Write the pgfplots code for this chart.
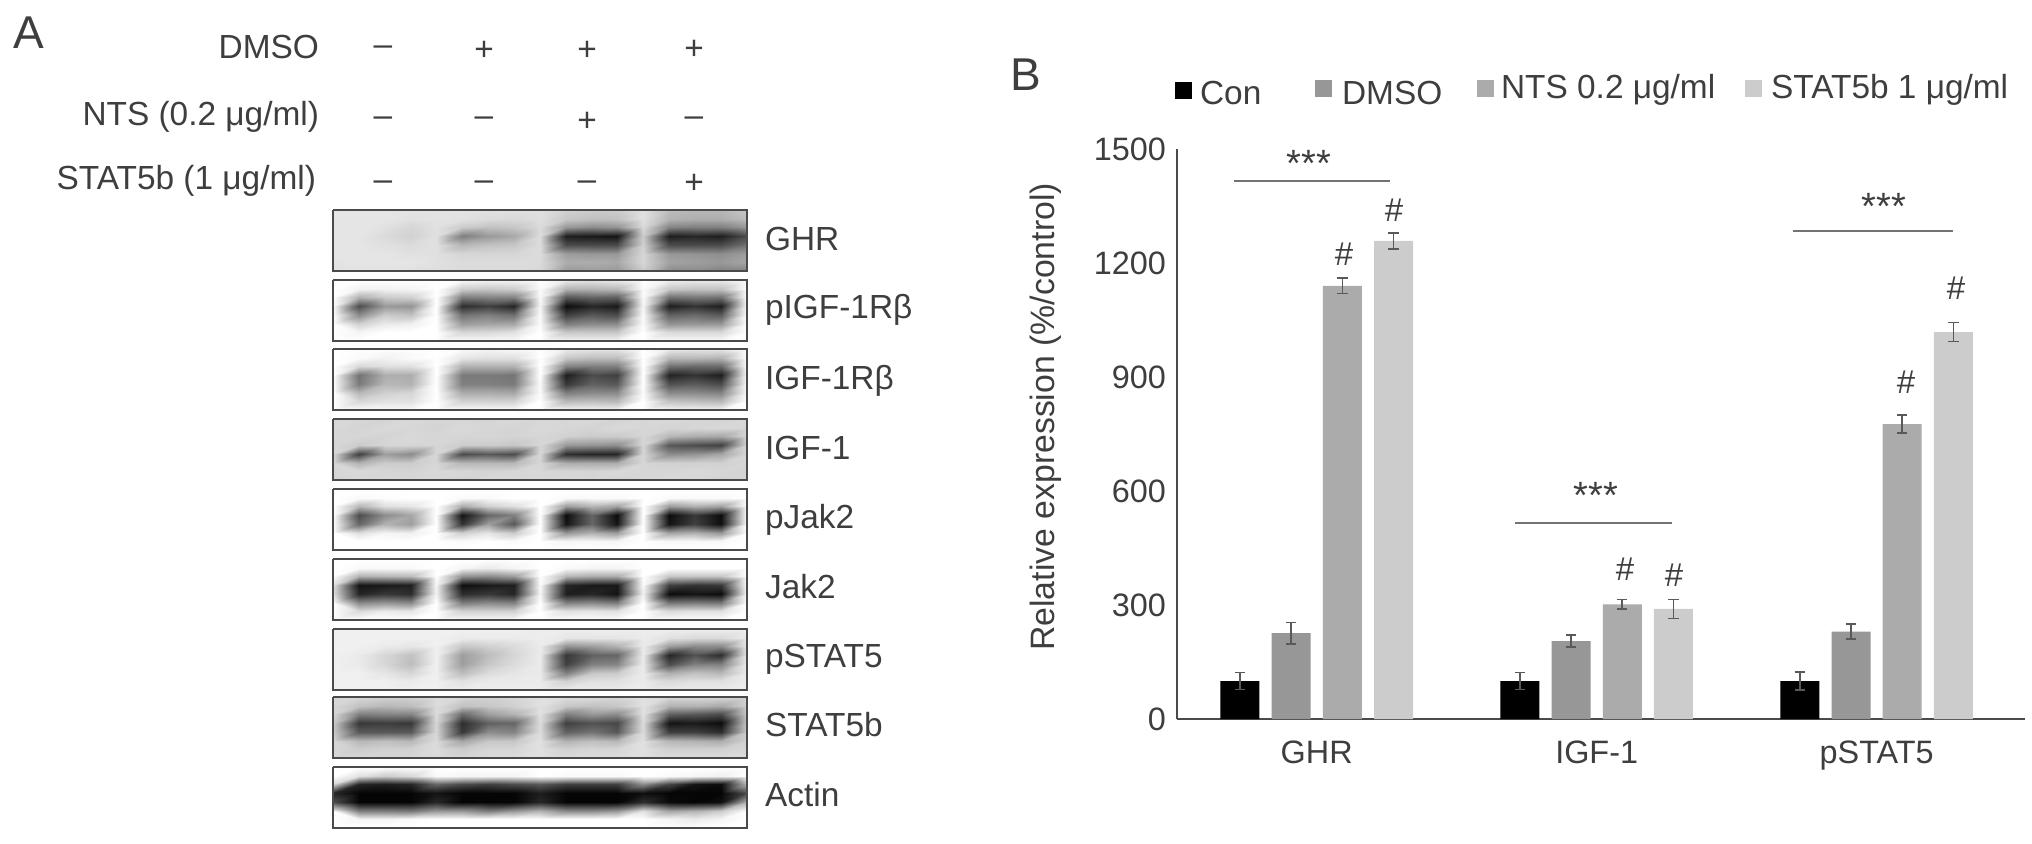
\documentclass[border=0pt]{standalone}
\usepackage{pgfplots}
\usepackage{fontspec}
\setmainfont{Liberation Sans}
\pgfplotsset{compat=1.18}
\definecolor{ink}{HTML}{3E3E3E}
\definecolor{frame}{HTML}{4A4A4A}
\definecolor{cA}{HTML}{000000}
\definecolor{cB}{HTML}{979797}
\definecolor{cC}{HTML}{ABABAB}
\definecolor{cD}{HTML}{CCCCCC}
\tikzset{t/.style={text=ink, font=\fontsize{16.7}{18}\selectfont},
         big/.style={text=ink, font=\fontsize{23}{26}\selectfont},
         star/.style={text=ink, font=\fontsize{19}{22}\selectfont},
         hash/.style={text=ink, font=\fontsize{16.5}{18}\selectfont}}
\newcommand{\blot}[2]{%
  \addplot[surf, shader=interp, mesh/cols=17, point meta=explicit]
    table[row sep=crcr, header=false, x expr={333+25.85*mod(\coordindex,17)},
          y expr={#1+8.7*floor(\coordindex/17)}, meta index=0]{#2};
  \addplot[draw=frame, line width=1.1pt] coordinates {(333,#1) (746.6,#1) (746.6,#1+61) (333,#1+61) (333,#1)};
}
\begin{document}
\begin{tikzpicture}
\path[use as bounding box] (0pt,0pt) rectangle (1016pt,421.5pt);
\begin{axis}[
  at={(0pt,0pt)}, anchor=south west,
  width=1016pt, height=421.5pt, scale only axis, hide axis,
  xmin=0, xmax=2032, ymin=0, ymax=843, y dir=reverse,
  clip=false,
  colormap={bw}{gray(0cm)=(0); gray(1cm)=(1)},
  point meta min=0, point meta max=100,
]
% GHR
\blot{210}{
90\\90\\90\\89\\89\\89\\88\\88\\88\\82\\80\\80\\88\\74\\72\\72\\78\\
90\\90\\90\\88\\89\\88\\86\\85\\87\\78\\75\\76\\88\\70\\68\\68\\74\\
90\\90\\88\\84\\88\\80\\76\\78\\86\\60\\55\\58\\85\\52\\50\\50\\60\\
90\\90\\86\\82\\88\\50\\60\\66\\86\\12\\10\\8\\80\\12\\15\\12\\30\\
90\\90\\88\\86\\88\\72\\76\\78\\86\\30\\30\\30\\82\\30\\30\\30\\45\\
90\\90\\90\\88\\88\\84\\84\\84\\86\\62\\60\\60\\84\\60\\58\\56\\62\\
90\\90\\90\\90\\88\\86\\86\\86\\86\\68\\68\\66\\84\\64\\62\\60\\65\\
88\\88\\88\\88\\87\\86\\86\\86\\84\\60\\62\\60\\80\\55\\55\\50\\50\\}
% pIGF-1Rb
\blot{280}{
100\\100\\100\\100\\100\\98\\96\\96\\100\\92\\90\\92\\100\\94\\92\\92\\100\\
100\\95\\95\\96\\100\\80\\78\\80\\98\\70\\70\\72\\98\\78\\76\\76\\100\\
100\\70\\80\\82\\100\\50\\52\\52\\98\\35\\40\\38\\98\\45\\48\\45\\100\\
98\\30\\60\\58\\100\\18\\25\\15\\96\\5\\15\\10\\96\\12\\20\\12\\98\\
100\\55\\80\\76\\100\\45\\50\\44\\98\\25\\35\\30\\98\\38\\42\\36\\100\\
100\\82\\92\\94\\100\\62\\65\\66\\98\\50\\55\\55\\98\\58\\60\\60\\100\\
100\\96\\100\\100\\100\\84\\85\\88\\100\\78\\78\\78\\100\\85\\85\\85\\100\\
100\\100\\100\\100\\100\\98\\98\\98\\100\\96\\96\\96\\100\\98\\98\\98\\100\\}
% IGF-1Rb
\blot{349}{
100\\99\\99\\99\\100\\98\\96\\97\\100\\92\\90\\90\\100\\92\\90\\90\\100\\
100\\98\\95\\98\\100\\90\\88\\88\\100\\78\\74\\74\\100\\72\\72\\70\\100\\
100\\85\\88\\88\\100\\70\\70\\70\\100\\52\\50\\50\\100\\45\\42\\42\\100\\
100\\45\\68\\68\\100\\48\\48\\46\\100\\12\\30\\25\\100\\14\\20\\12\\98\\
100\\48\\72\\70\\100\\50\\50\\48\\98\\22\\38\\35\\100\\32\\36\\30\\98\\
100\\72\\82\\84\\100\\68\\68\\66\\98\\50\\55\\55\\98\\55\\55\\52\\98\\
100\\84\\88\\88\\100\\82\\82\\82\\100\\72\\74\\72\\100\\76\\74\\72\\100\\
100\\98\\98\\98\\100\\98\\98\\98\\100\\96\\96\\96\\100\\96\\96\\96\\100\\}
% IGF-1
\blot{419}{
84\\84\\83\\85\\84\\84\\83\\85\\84\\84\\85\\83\\84\\85\\84\\83\\84\\
85\\83\\85\\84\\83\\85\\84\\83\\85\\84\\83\\85\\84\\83\\84\\85\\84\\
84\\84\\83\\85\\84\\84\\84\\83\\84\\82\\80\\80\\84\\72\\68\\66\\84\\
84\\80\\84\\84\\84\\80\\80\\78\\84\\60\\58\\56\\84\\35\\30\\26\\84\\
84\\25\\62\\55\\84\\30\\35\\30\\84\\18\\15\\15\\84\\55\\58\\65\\84\\
85\\70\\80\\80\\84\\72\\72\\72\\84\\68\\68\\68\\84\\82\\82\\82\\84\\
84\\85\\84\\83\\85\\84\\83\\84\\85\\84\\83\\85\\84\\84\\85\\84\\83\\
83\\84\\85\\84\\84\\83\\85\\84\\84\\85\\84\\83\\84\\85\\84\\83\\84\\}
% pJak2
\blot{489}{
100\\100\\100\\100\\100\\100\\100\\100\\100\\100\\100\\100\\100\\100\\100\\100\\100\\
100\\98\\99\\100\\100\\98\\98\\100\\100\\98\\98\\98\\100\\98\\98\\98\\100\\
100\\72\\88\\90\\100\\68\\82\\88\\100\\62\\72\\64\\100\\62\\70\\64\\100\\
100\\30\\55\\65\\100\\8\\40\\50\\100\\5\\40\\5\\100\\5\\22\\5\\100\\
100\\40\\70\\62\\100\\20\\62\\35\\100\\8\\40\\8\\100\\8\\25\\6\\100\\
100\\88\\96\\94\\100\\82\\90\\80\\100\\60\\70\\62\\100\\65\\70\\60\\100\\
100\\100\\100\\100\\100\\98\\100\\98\\100\\96\\97\\96\\100\\97\\97\\97\\100\\
100\\100\\100\\100\\100\\100\\100\\100\\100\\100\\100\\100\\100\\100\\100\\100\\100\\}
% Jak2
\blot{559}{
100\\100\\100\\100\\100\\100\\100\\100\\100\\100\\100\\100\\100\\100\\100\\100\\100\\
100\\98\\98\\98\\100\\96\\92\\96\\100\\98\\96\\96\\100\\100\\100\\100\\100\\
100\\70\\72\\74\\100\\58\\55\\62\\100\\72\\68\\68\\100\\78\\78\\78\\100\\
88\\8\\10\\12\\96\\6\\10\\12\\98\\15\\10\\10\\98\\25\\20\\22\\100\\
88\\15\\22\\18\\95\\18\\22\\15\\96\\12\\15\\8\\94\\5\\8\\5\\98\\
100\\55\\60\\55\\100\\50\\55\\52\\100\\52\\55\\50\\100\\48\\50\\48\\100\\
100\\85\\92\\90\\100\\82\\82\\82\\100\\88\\90\\88\\100\\86\\88\\88\\100\\
100\\100\\100\\100\\100\\98\\98\\98\\100\\99\\99\\99\\100\\99\\99\\99\\100\\}
% pSTAT5
\blot{629}{
94\\94\\94\\94\\94\\94\\94\\94\\93\\93\\93\\93\\93\\93\\93\\93\\93\\
94\\94\\94\\94\\94\\92\\92\\92\\93\\90\\90\\90\\92\\88\\85\\85\\92\\
94\\94\\92\\90\\94\\78\\82\\86\\92\\58\\62\\70\\92\\62\\55\\55\\92\\
94\\92\\84\\76\\94\\62\\74\\84\\92\\22\\38\\40\\92\\15\\32\\18\\92\\
94\\92\\84\\74\\94\\62\\78\\86\\92\\25\\50\\52\\92\\30\\50\\50\\92\\
94\\94\\90\\84\\94\\74\\86\\90\\92\\50\\78\\80\\92\\68\\76\\72\\92\\
94\\94\\94\\92\\94\\88\\92\\92\\92\\82\\88\\88\\92\\85\\88\\88\\92\\
94\\94\\94\\94\\94\\93\\93\\93\\93\\92\\92\\92\\93\\92\\92\\92\\93\\}
% STAT5b
\blot{697}{
84\\84\\82\\82\\86\\84\\82\\84\\88\\86\\86\\84\\88\\84\\84\\84\\84\\
84\\76\\72\\74\\86\\76\\78\\82\\88\\78\\76\\78\\88\\70\\70\\66\\82\\
84\\50\\52\\52\\86\\42\\62\\70\\88\\50\\60\\55\\88\\38\\35\\30\\80\\
80\\22\\24\\22\\84\\18\\38\\40\\86\\25\\32\\28\\86\\8\\10\\5\\78\\
80\\35\\35\\35\\84\\22\\55\\52\\86\\38\\45\\35\\86\\25\\25\\18\\80\\
84\\72\\75\\72\\86\\65\\78\\78\\88\\70\\75\\72\\88\\72\\70\\68\\82\\
84\\80\\82\\82\\86\\80\\84\\84\\88\\82\\84\\84\\88\\82\\82\\82\\84\\
84\\84\\84\\84\\86\\84\\86\\86\\88\\86\\86\\86\\88\\86\\86\\86\\86\\}
% Actin
\blot{767}{
100\\100\\100\\100\\100\\100\\100\\100\\100\\100\\100\\100\\100\\100\\100\\100\\100\\
100\\88\\80\\85\\98\\96\\96\\96\\100\\98\\98\\98\\100\\98\\96\\94\\100\\
85\\15\\12\\15\\40\\30\\25\\30\\35\\25\\25\\25\\55\\28\\8\\5\\70\\
15\\2\\2\\2\\8\\2\\2\\2\\12\\2\\2\\2\\6\\2\\2\\2\\30\\
30\\2\\2\\2\\15\\2\\2\\2\\15\\2\\2\\2\\18\\4\\2\\6\\70\\
92\\50\\50\\48\\60\\60\\50\\60\\70\\55\\55\\60\\88\\65\\70\\80\\100\\
100\\96\\96\\98\\100\\100\\100\\100\\100\\100\\100\\100\\100\\96\\92\\96\\100\\
100\\100\\100\\100\\100\\100\\100\\100\\100\\100\\100\\100\\100\\100\\100\\100\\100\\}
% significance bars and legend keys of panel B
\addplot[draw=black!55, line width=1pt] coordinates {(1234,181) (1390,181)};
\addplot[draw=black!55, line width=1pt] coordinates {(1515,523) (1672,523)};
\addplot[draw=black!55, line width=1pt] coordinates {(1793,231) (1953,231)};
\addplot[only marks, mark=square*, mark size=4pt, color=cA] coordinates {(1183,90)};
\addplot[only marks, mark=square*, mark size=4pt, color=cB] coordinates {(1323,88)};
\addplot[only marks, mark=square*, mark size=4pt, color=cC] coordinates {(1485,88)};
\addplot[only marks, mark=square*, mark size=4pt, color=cD] coordinates {(1753,88)};
% panel letters
\node[big] at (axis cs:29,33) {A};
\node[big] at (axis cs:1026,75) {B};
% treatment labels
\node[t,anchor=east] at (axis cs:326,47) {DMSO};
\node[t,anchor=east] at (axis cs:326,117) {NTS (0.2 μg/ml)};
\node[t,anchor=east] at (axis cs:323,181) {STAT5b (1 μg/ml)};
\node[t] at (axis cs:383,51) {–};
\node[t] at (axis cs:484,51) {+};
\node[t] at (axis cs:587,51) {+};
\node[t] at (axis cs:694,50) {+};
\node[t] at (axis cs:383,122) {–};
\node[t] at (axis cs:484,122) {–};
\node[t] at (axis cs:587,122) {+};
\node[t] at (axis cs:694,122) {–};
\node[t] at (axis cs:383,186) {–};
\node[t] at (axis cs:484,186) {–};
\node[t] at (axis cs:587,186) {–};
\node[t] at (axis cs:694,184) {+};
% blot labels
\node[t,anchor=west] at (axis cs:758,239) {GHR};
\node[t,anchor=west] at (axis cs:758,310) {pIGF-1Rβ};
\node[t,anchor=west] at (axis cs:758,381) {IGF-1Rβ};
\node[t,anchor=west] at (axis cs:758,448) {IGF-1};
\node[t,anchor=west] at (axis cs:758,520) {pJak2};
\node[t,anchor=west] at (axis cs:758,587) {Jak2};
\node[t,anchor=west] at (axis cs:758,659) {pSTAT5};
\node[t,anchor=west] at (axis cs:758,725) {STAT5b};
\node[t,anchor=west] at (axis cs:758,795) {Actin};
% legend text
\node[t,anchor=west] at (axis cs:1193,93) {Con};
\node[t,anchor=west] at (axis cs:1335,93) {DMSO};
\node[t,anchor=west] at (axis cs:1494,90) {NTS 0.2 μg/ml};
\node[t,anchor=west] at (axis cs:1764,90) {STAT5b 1 μg/ml};
% significance marks
\node[star] at (axis cs:1309,163) {***};
\node[star] at (axis cs:1596,495) {***};
\node[star] at (axis cs:1884,206) {***};
\node[hash] at (axis cs:1344,254) {\#};
\node[hash] at (axis cs:1394,210) {\#};
\node[hash] at (axis cs:1625,569) {\#};
\node[hash] at (axis cs:1674,575) {\#};
\node[hash] at (axis cs:1906,382) {\#};
\node[hash] at (axis cs:1956,288) {\#};
\end{axis}

\begin{axis}[
  at={(588.5pt,62pt)}, anchor=south west,
  width=424pt, height=285pt, scale only axis,
  xmin=-0.499, xmax=2.530, ymin=0, ymax=1500,
  axis lines=left, axis line style={draw=frame, line width=1.1pt, -},
  ybar=6.1pt, bar width=19.5pt,
  xtick={0,1,2}, xticklabels={GHR,IGF-1,pSTAT5},
  ytick={0,300,600,900,1200,1500},
  major tick length=0pt,
  /pgf/number format/assume math mode=true,
  /pgf/number format/1000 sep={},
  tick label style={text=ink, font=\fontsize{16.2}{18}\selectfont},
  xticklabel style={yshift=-7.5pt},
  yticklabel style={xshift=-2pt},
  ylabel={Relative expression (\%/control)},
  every axis y label/.style={at={(axis description cs:-0.1545,0.53)}, rotate=90, anchor=center, text=ink, font=\fontsize{16.9}{18}\selectfont},
  error bars/error bar style={draw=black!65, line width=0.8pt},
  error bars/error mark options={draw=black!65, line width=0.8pt, mark size=2.6pt, rotate=90},
]
\addplot[fill=cA, draw=none, error bars/.cd, y dir=both, y explicit] coordinates {(0,100) +- (0,22) (1,100) +- (0,22) (2,100) +- (0,24)};
\addplot[fill=cB, draw=none, error bars/.cd, y dir=both, y explicit] coordinates {(0,226) +- (0,28) (1,205) +- (0,16) (2,230) +- (0,20)};
\addplot[fill=cC, draw=none, error bars/.cd, y dir=both, y explicit] coordinates {(0,1140) +- (0,20) (1,302) +- (0,13) (2,776) +- (0,24)};
\addplot[fill=cD, draw=none, error bars/.cd, y dir=both, y explicit] coordinates {(0,1258) +- (0,21) (1,290) +- (0,25) (2,1018) +- (0,25)};
\end{axis}
\end{tikzpicture}
\end{document}
